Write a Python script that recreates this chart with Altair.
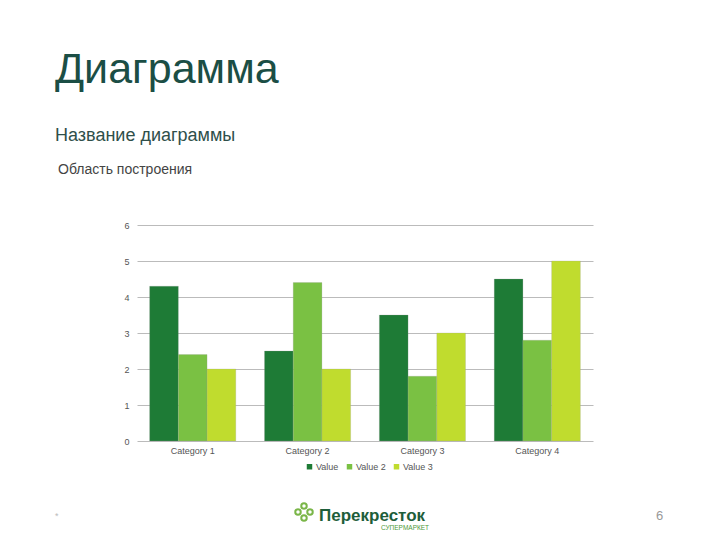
import altair as alt
import pandas as pd

categories = ["Category 1", "Category 2", "Category 3", "Category 4"]
series_names = ["Value", "Value 2", "Value 3"]
value1 = [4.3, 2.5, 3.5, 4.5]
value2 = [2.4, 4.4, 1.8, 2.8]
value3 = [2.0, 2.0, 3.0, 5.0]
colors = ["#1E7B36", "#7AC143", "#C0DC2E"]
y_ticks = [0, 1, 2, 3, 4, 5, 6]

rows = []
for s, vals in zip(series_names, [value1, value2, value3]):
    for c, v in zip(categories, vals):
        rows.append({"Category": c, "Series": s, "Val": v})
df = pd.DataFrame(rows)

W, H = 456, 216
OX, OY = 137, 225  # plot origin on page

bars = alt.Chart(df).mark_bar(stroke="#9a9a9a", strokeWidth=0.4, strokeOpacity=0.6).encode(
    x=alt.X("Category:N", sort=categories, title=None,
            scale=alt.Scale(paddingInner=0.25, paddingOuter=0.11),
            axis=alt.Axis(labelAngle=0, labelFontSize=9, labelColor="#555555",
                          labelFont="Liberation Sans", domain=False, ticks=False,
                          grid=False, labelPadding=5)),
    xOffset=alt.XOffset("Series:N", sort=series_names, scale=alt.Scale(paddingInner=0, paddingOuter=0)),
    y=alt.Y("Val:Q", title=None,
            scale=alt.Scale(domain=[0, 6], nice=False),
            axis=alt.Axis(values=y_ticks, labelFontSize=9, labelColor="#555555",
                          labelFont="Liberation Sans", domain=False, ticks=False,
                          gridColor="#bbbbbb", gridWidth=1, labelPadding=8)),
    color=alt.Color("Series:N", sort=series_names,
                    scale=alt.Scale(domain=series_names, range=colors),
                    legend=alt.Legend(title=None, orient="none", direction="horizontal",
                                      legendX=168, legendY=237, symbolType="square",
                                      symbolSize=30, symbolStrokeWidth=0,
                                      labelFontSize=9, labelColor="#555555",
                                      labelFont="Liberation Sans", columnPadding=6,
                                      labelOffset=2)),
)


def txt(text, x, y, size, color, weight="normal", font="Liberation Sans", align="left"):
    d = pd.DataFrame({"t": [text]})
    return alt.Chart(d).mark_text(
        align=align, baseline="alphabetic", fontSize=size, color=color,
        fontWeight=weight, font=font,
    ).encode(x=alt.value(x - OX), y=alt.value(y - OY), text="t:N")


title = txt("Диаграмма", 55, 83, 43, "#1B4E45")
sub = txt("Название диаграммы", 55, 141, 18, "#2F4F4A")
area = txt("Область построения", 58, 174, 14, "#444444")
star = txt("*", 55, 519, 9, "#bbbbbb")
page = txt("6", 656, 520, 13, "#999999")
logo1 = txt("Перекресток", 319, 521, 17, "#1E5E3A", weight="bold", font="Liberation Sans")
logo2 = txt("СУПЕРМАРКЕТ", 381, 530, 6.5, "#4E9A3A")

logo_cx = [304, 310, 304, 298]
logo_cy = [506, 512, 518, 512]
circ = pd.DataFrame({"cx": logo_cx, "cy": logo_cy})
circles = alt.Chart(circ).transform_calculate(
    px=f"datum.cx - {OX}", py=f"datum.cy - {OY}"
).mark_point(size=30, filled=False, strokeWidth=2, color="#7AB648", opacity=1).encode(
    x=alt.X("px:Q", scale=None, axis=None), y=alt.Y("py:Q", scale=None, axis=None)
)

chart = alt.layer(bars, title, sub, area, star, page, logo1, logo2, circles).resolve_scale(
    x="independent", y="independent"
).properties(
    width=W, height=H,
    background="white",
    padding={"left": OX - 8, "top": OY - 8, "right": 704 - (OX - 8) - W, "bottom": 524 - (OY - 8) - H},
    autosize=alt.AutoSizeParams(type="none"),
).configure_view(strokeWidth=0, stroke=None)

chart.save("out.html", embed_options={"renderer": "svg", "actions": False})
